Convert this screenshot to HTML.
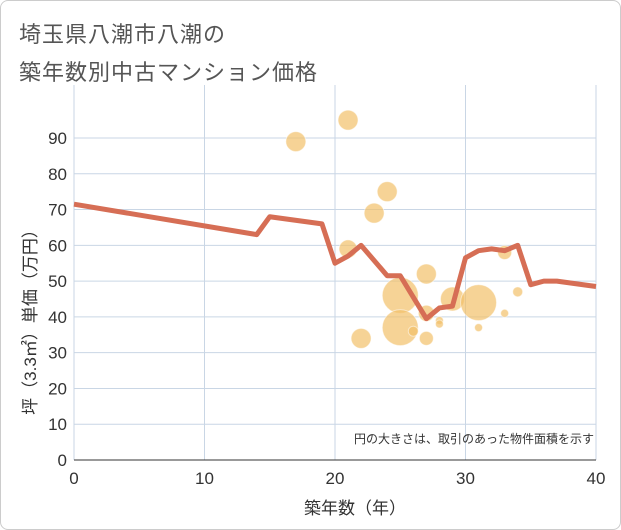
<!DOCTYPE html>
<html><head><meta charset="utf-8"><style>
body{margin:0;background:#fff;}
#wrap{position:relative;width:619px;height:528px;border:1px solid #ccc;border-radius:8px;overflow:hidden;background:#fff;font-family:"Liberation Sans","Noto Sans CJK JP",sans-serif;}
.t{position:absolute;left:18px;font-size:22px;color:#555;letter-spacing:1px}
</style></head><body>
<div id="wrap">
<div class="t" style="top:16px">埼玉県八潮市八潮の</div>
<div class="t" style="top:54px">築年数別中古マンション価格</div>
<svg id="svg" width="621" height="530" style="position:absolute;left:-1px;top:-1px"></svg>
</div>
<script>
const xTicks=[0,10,20,30,40];
const yTicks=[0,10,20,30,40,50,60,70,80,90];
const lineYears=[0,14,15,19,20,21,22,24,25,27,28,29,30,31,32,33,34,35,36,37,40];
const linePrices=[71.5,63,68,66,55,57,60,51.5,51.5,39.5,42.5,43,56.5,58.5,59,58.5,60,49,50,50,48.5];
const bubbleYears=[17,21,21,23,24,22,25,25,26,27,27,27,28,28,29,31,31,33,33,34];
const bubblePrices=[89,95,59,69,75,34,46,37,36,52,34,41,39,38,45,44,37,58,41,47];
const bubbleSizes=[10,10,9,10,10,10,18,18,5,10,7,8,4,4,12,18,4,7,4,5];
const NS="http://www.w3.org/2000/svg";
const svg=document.getElementById('svg');
const x=v=>74+v*(596-74)/40;
const y=v=>460-v*(460-138)/90;
function mk(t,a){const e=document.createElementNS(NS,t);for(const k in a)e.setAttribute(k,a[k]);svg.appendChild(e);return e;}
for(const v of yTicks){
 const l=mk('line',{x1:74,x2:596,y1:y(v),y2:y(v),stroke:'#c9d6e5','stroke-width':1});
 
 const t=mk('text',{x:67,y:y(v)+6,'text-anchor':'end','font-size':17,fill:'#333'});t.textContent=v;
 
}
for(const v of xTicks){
 const l=mk('line',{x1:x(v),x2:x(v),y1:85,y2:460,stroke:'#c9d6e5','stroke-width':1});
 
 const t=mk('text',{x:x(v),y:484,'text-anchor':'middle','font-size':17,fill:'#333'});t.textContent=v;
 
}
bubbleYears.forEach((yr,i)=>{
 const c=mk('circle',{cx:x(yr),cy:y(bubblePrices[i]),r:bubbleSizes[i],fill:'#f2c16a','fill-opacity':0.7,stroke:'#fff','stroke-opacity':0.5});
 
});
const p=mk('polyline',{points:lineYears.map((yr,i)=>x(yr)+','+y(linePrices[i])).join(' '),fill:'none',stroke:'#d66e55','stroke-width':5,'stroke-linejoin':'round'});

const ax=mk('line',{x1:74,x2:596,y1:460,y2:460,stroke:'#333','stroke-width':1});

const xt=mk('text',{x:355,y:514,'text-anchor':'middle','font-size':17,fill:'#333'});xt.textContent='築年数（年）';

const yt=mk('text',{x:0,y:0,'text-anchor':'middle','font-size':17,fill:'#333',transform:'translate(36,318) rotate(-90)'});yt.textContent='坪（3.3㎡）単価（万円）';

const n=mk('text',{x:594,y:443,'text-anchor':'end','font-size':12,fill:'#333'});n.textContent='円の大きさは、取引のあった物件面積を示す';

</script>
</body></html>
